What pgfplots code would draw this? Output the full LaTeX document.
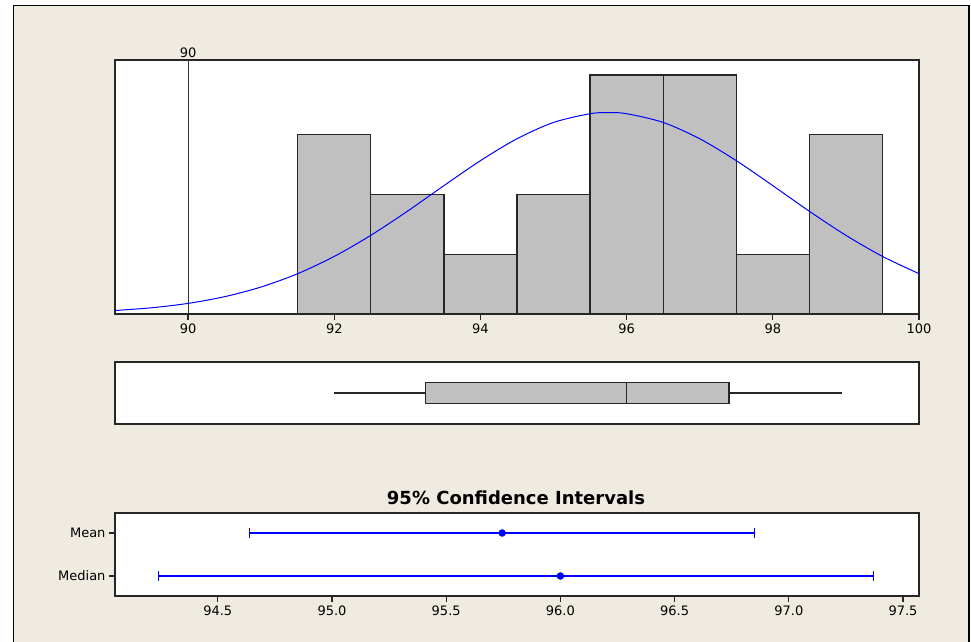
\documentclass[border=0pt]{standalone}
\usepackage{fontspec}
\setmainfont{DejaVu Sans}
\usepackage{pgfplots}
\pgfplotsset{compat=1.18}
\usepgfplotslibrary{statistics}
\definecolor{bg}{RGB}{239,235,225}
\definecolor{bargray}{RGB}{192,192,192}
\begin{document}
\begin{tikzpicture}
\clip (0pt,0pt) rectangle (971pt,641pt);
\fill[white] (0pt,0pt) rectangle (971pt,641pt);
\draw[line width=1.5pt, fill=bg] (13.5pt,-10pt) rectangle (969pt,635.5pt);
\pgfplotsset{
 every axis/.append style={
   scale only axis, width=804pt,
   axis line style={line width=1.5pt, black!85},
   tick style={line width=1.2pt, black!85}, major tick length=6pt, tick align=outside,
   ticklabel style={font=\fontsize{13}{15}\selectfont},
   /pgf/number format/assume math mode=true,
   axis background/.style={fill=white},
 }
}
% Histogram
\begin{axis}[at={(115pt,327pt)}, anchor=south west, height=254pt,
  xmin=89, xmax=100, ymin=0, ymax=4.25, clip mode=individual,
  xtick={90,92,94,96,98,100}, ytick=\empty, xtick pos=bottom]
\addplot[ybar interval, fill=bargray, draw=black!85, line width=1.3pt] coordinates {
 (91.5,3) (92.5,2) (93.5,1) (94.5,2) (95.5,4) (96.5,4) (97.5,1) (98.5,3) (99.5,3)};
\addplot[black!80, line width=0.9pt] coordinates {(90,0) (90,4.25)};
\addplot[blue, line width=1pt, smooth] coordinates {
 (89,0.0584) (89.5,0.1041) (90,0.1776) (90.5,0.2898) (91,0.4523) (91.5,0.6750)
 (92,0.9638) (92.5,1.3162) (93,1.7190) (93.5,2.1475) (94,2.5659) (94.5,2.9324)
 (95,3.2054) (95.5,3.3513) (95.75,3.37) (96,3.3513) (96.5,3.2054) (97,2.9324)
 (97.5,2.5659) (98,2.1475) (98.5,1.7190) (99,1.3162) (99.5,0.9638) (100,0.6750)};
\node[anchor=south, font=\fontsize{13}{15}\selectfont, inner sep=2pt] at (axis cs:90,4.25) {90};
\end{axis}
% Boxplot
\begin{axis}[at={(115pt,217pt)}, anchor=south west, height=62pt,
  xmin=89, xmax=100, ymin=0, ymax=1, xtick=\empty, ytick=\empty]
\addplot[fill=bargray, draw=black!85, line width=1.3pt,
  boxplot prepared={lower whisker=92, lower quartile=93.25, median=96,
  upper quartile=97.4, upper whisker=98.95, draw position=0.5,
  box extend=0.34, whisker extend=0}] coordinates {};
\end{axis}
% CI
\node[anchor=base, font=\bfseries\fontsize{18}{20}\selectfont] at (516pt,137pt) {95\% Confidence Intervals};
\begin{axis}[at={(115pt,45pt)}, anchor=south west, height=83pt,
  xmin=94.05, xmax=97.57, ymin=0.535, ymax=2.465,
  xtick={94.5,95,95.5,96,96.5,97,97.5}, ytick={1,2}, yticklabels={Median,Mean},
  xtick pos=bottom, ytick pos=left,
  xticklabel style={/pgf/number format/.cd, fixed, fixed zerofill, precision=1}]
\addplot[blue, line width=1.2pt, mark=|, mark size=5pt, mark options={line width=1.2pt}] coordinates {(94.64,2) (96.85,2)};
\addplot[blue, line width=1.2pt, mark=|, mark size=5pt, mark options={line width=1.2pt}] coordinates {(94.24,1) (97.37,1)};
\addplot[blue, only marks, mark=*, mark size=3.5pt, mark options={blue, fill=blue}] coordinates {
  (95.745,2) (96.0,1)};
\end{axis}
\end{tikzpicture}
\end{document}
